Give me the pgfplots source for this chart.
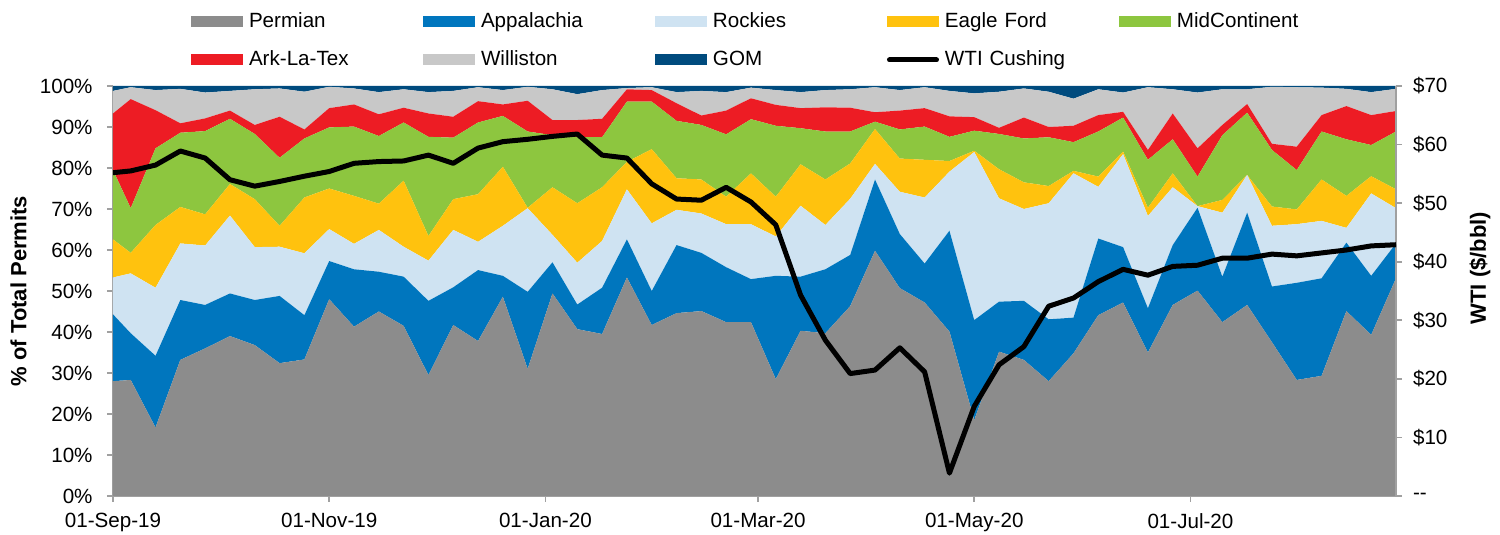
\documentclass[border=0pt]{standalone}
\usepackage{pgfplots}
\usepackage{pgfplotstable}
\pgfplotsset{compat=1.18}
\usepackage{fontspec}
\setmainfont{Liberation Sans}

\definecolor{cPerm}{RGB}{140,140,140}
\definecolor{cApp}{RGB}{0,118,190}
\definecolor{cRock}{RGB}{207,227,242}
\definecolor{cEF}{RGB}{255,194,14}
\definecolor{cMid}{RGB}{141,198,63}
\definecolor{cArk}{RGB}{237,28,36}
\definecolor{cWill}{RGB}{200,200,200}
\definecolor{cGOM}{RGB}{0,75,126}
\definecolor{axgray}{RGB}{160,160,160}

% days since 01-Sep-2019; share of total permits (%)
\pgfplotstableread{
d P A R E M K W G
0 28.0 16.3 9.0 9.3 16.9 13.8 5.5 1.2
5 28.3 11.4 14.6 5.0 10.9 26.6 2.9 0.3
12 16.7 17.5 16.6 15.3 18.7 9.3 4.9 1.0
19 33.2 14.6 13.8 8.9 18.1 2.3 8.4 0.7
26 36.0 10.6 14.5 7.6 20.3 3.1 6.3 1.6
33 39.0 10.4 19.0 7.7 15.9 2.0 4.8 1.2
40 36.8 11.0 12.9 11.7 15.9 2.2 8.7 0.8
47 32.4 16.4 12.0 5.1 16.6 10.0 6.9 0.6
54 33.3 10.8 15.1 13.6 14.4 2.2 9.2 1.4
61 48.0 9.3 7.8 9.9 14.9 4.7 5.2 0.2
68 41.3 14.0 6.2 11.7 16.9 5.4 3.9 0.6
75 45.0 9.7 10.2 6.4 16.5 5.3 5.4 1.5
82 41.5 12.0 7.3 16.1 14.2 3.6 4.5 0.8
89 29.5 18.1 9.8 6.0 24.2 5.7 5.2 1.5
96 41.7 9.2 14.0 7.5 15.0 5.1 6.3 1.2
103 37.8 17.3 6.9 11.6 17.5 5.2 3.4 0.3
110 48.6 5.1 12.2 14.4 12.4 2.8 3.5 1.0
117 31.0 18.8 20.4 0.1 18.6 7.5 3.4 0.2
124 49.4 7.6 6.7 11.6 12.7 3.7 7.5 0.8
131 40.7 6.0 10.2 14.5 16.1 4.2 6.3 2.0
138 39.5 11.3 11.4 13.1 12.2 4.5 7.0 1.0
145 53.3 9.3 12.2 6.7 14.7 3.0 0.3 0.5
152 41.7 8.3 16.5 18.1 11.6 2.8 0.7 0.3
159 44.6 16.6 8.6 7.7 14.0 4.3 2.7 1.5
166 45.1 14.2 9.6 8.3 13.3 2.3 6.0 1.2
173 42.4 13.4 10.5 6.7 15.2 5.8 4.5 1.5
180 42.4 10.5 13.4 12.4 13.2 5.1 2.6 0.4
187 28.5 25.2 9.6 9.7 17.3 5.1 3.6 1.0
194 40.3 13.2 17.3 10.1 8.8 4.9 3.9 1.5
201 39.7 15.6 10.8 11.1 11.7 5.9 4.2 1.0
208 46.3 12.5 13.7 8.6 7.8 5.8 4.5 0.8
215 59.8 17.4 3.8 8.5 1.8 2.3 6.1 0.3
222 50.7 13.2 10.3 8.1 7.1 4.6 5.0 1.0
229 47.2 9.5 16.1 9.2 8.1 4.5 5.1 0.3
236 40.1 24.6 14.4 2.6 5.9 5.0 6.2 1.2
243 18.5 24.4 41.0 0.3 4.9 3.3 5.8 1.8
250 35.2 12.2 25.2 7.1 8.6 1.5 8.8 1.4
257 33.2 14.4 22.4 6.5 10.7 5.1 7.1 0.6
264 28.0 15.1 28.3 4.2 11.9 2.5 8.6 1.4
271 34.8 8.7 35.2 0.6 7.0 4.0 6.6 3.1
278 44.1 18.7 12.6 2.5 11.0 4.0 6.3 0.8
285 47.2 13.5 22.7 0.6 8.3 1.4 4.7 1.6
292 35.0 10.8 22.5 2.0 11.7 2.4 15.3 0.3
299 46.6 14.6 14.1 3.4 8.3 6.3 5.9 0.8
306 50.1 20.2 0.4 0.0 7.2 6.9 13.6 1.6
313 42.4 11.1 15.6 3.1 15.8 2.5 8.7 0.8
320 46.6 22.5 9.2 0.0 15.2 2.1 3.6 0.8
327 37.5 13.6 14.8 4.7 13.8 1.5 13.9 0.2
334 28.3 23.7 14.3 3.6 9.6 5.7 14.5 0.3
341 29.3 23.8 14.0 10.1 11.7 4.0 6.7 0.4
348 45.1 16.7 3.6 7.8 13.8 8.1 4.2 0.7
355 39.3 14.4 20.1 4.2 7.6 7.3 5.6 1.5
362 53.1 8.5 8.6 4.6 14.1 5.0 5.4 0.7
}\permits

% WTI Cushing ($/bbl)
\pgfplotstableread{
d wti
0 55.2
5 55.5
12 56.5
19 58.9
26 57.7
33 54.0
40 52.9
47 53.7
54 54.6
61 55.4
68 56.8
75 57.1
82 57.2
89 58.2
96 56.8
103 59.4
110 60.5
117 60.9
124 61.4
131 61.8
138 58.2
145 57.7
152 53.3
159 50.7
166 50.5
173 52.7
180 50.2
187 46.3
194 34.3
201 26.6
208 20.9
215 21.5
222 25.3
229 21.2
236 3.9
243 15.3
250 22.4
257 25.5
264 32.4
271 33.8
278 36.6
285 38.7
292 37.7
299 39.2
306 39.4
313 40.6
320 40.6
327 41.3
334 41.0
341 41.5
348 42.0
355 42.7
362 42.9
}\wti

\begin{document}
\begin{tikzpicture}[x=1pt,y=1pt]
\useasboundingbox (0,0) rectangle (750,267.5);
\begin{axis}[
  at={(56.5pt,19.5pt)}, anchor=south west,
  scale only axis, width=641.5pt, height=205pt,
  xmin=0, xmax=362, ymin=0, ymax=100,
  stack plots=y,
  axis x line*=bottom, axis y line*=left,
  axis line style={axgray, line width=0.8pt},
  tick align=outside, major tick length=3pt,
  tick style={axgray, line width=0.8pt},
  xtick={0,61,122,182,243,304},
  xticklabels={01-Sep-19,01-Nov-19,01-Jan-20,01-Mar-20,01-May-20,01-Jul-20},
  ytick={0,10,...,100},
  yticklabels={0\%,10\%,20\%,30\%,40\%,50\%,60\%,70\%,80\%,90\%,100\%},
  /pgf/number format/assume math mode=true,
  tick label style={font=\fontsize{10.3}{12}\selectfont, black},
  xticklabel style={yshift=-2.2pt},
  yticklabel style={xshift=-3.7pt},
  ylabel={\% of Total Permits},
  ylabel style={font=\bfseries\fontsize{11}{13}\selectfont, at={(axis description cs:-0.0737,0.5)}, anchor=center, rotate=0},
  legend columns=5,
  legend cell align=left,
  legend image code/.code={\path[#1] (0pt,-2.75pt) rectangle (26pt,2.75pt);},
  legend style={at={(0,1)}, anchor=north west, xshift=39pt, yshift=37pt,
    draw=none, fill=none, inner sep=0pt, outer sep=0pt, row sep=9pt,
    font=\fontsize{10.3}{12}\selectfont,
    nodes={text width=87pt, align=left, inner sep=0pt, text height=8pt, text depth=2pt},
    /tikz/every odd column/.append style={column sep=3pt}},
]
\addplot[fill=cPerm, draw=none] table[x=d, y=P] {\permits} \closedcycle;
\addlegendentry{Permian}
\addplot[fill=cApp, draw=none] table[x=d, y=A] {\permits} \closedcycle;
\addlegendentry{Appalachia}
\addplot[fill=cRock, draw=none] table[x=d, y=R] {\permits} \closedcycle;
\addlegendentry{Rockies}
\addplot[fill=cEF, draw=none] table[x=d, y=E] {\permits} \closedcycle;
\addlegendentry{Eagle Ford}
\addplot[fill=cMid, draw=none] table[x=d, y=M] {\permits} \closedcycle;
\addlegendentry{MidContinent}
\addplot[fill=cArk, draw=none] table[x=d, y=K] {\permits} \closedcycle;
\addlegendentry{Ark-La-Tex}
\addplot[fill=cWill, draw=none] table[x=d, y=W] {\permits} \closedcycle;
\addlegendentry{Williston}
\addplot[fill=cGOM, draw=none] table[x=d, y=G] {\permits} \closedcycle;
\addlegendentry{GOM}
\addlegendimage{legend image code/.code={\draw[black, line width=2.5pt, line cap=round] (1.25pt,0pt) -- (24.75pt,0pt);}}
\addlegendentry{WTI Cushing}
\end{axis}
\begin{axis}[
  at={(56.5pt,19.5pt)}, anchor=south west,
  scale only axis, width=641.5pt, height=205pt,
  xmin=0, xmax=362, ymin=0, ymax=70,
  axis x line=none, axis y line*=right,
  axis line style={axgray, line width=0.8pt},
  tick align=outside, major tick length=3pt,
  tick style={axgray, line width=0.8pt},
  ytick={0,10,...,70},
  yticklabels={-{}-,\$10,\$20,\$30,\$40,\$50,\$60,\$70},
  /pgf/number format/assume math mode=true,
  tick label style={font=\fontsize{10.3}{12}\selectfont, black},
  yticklabel style={xshift=2pt},
  ylabel={WTI (\$/bbl)},
  ylabel style={font=\bfseries\fontsize{11}{13}\selectfont, at={(axis description cs:1.0655,0.556)}, anchor=center, rotate=0},
]
\addplot[black, line width=2.5pt, line join=round] table[x=d, y=wti] {\wti};
\end{axis}
\end{tikzpicture}
\end{document}
